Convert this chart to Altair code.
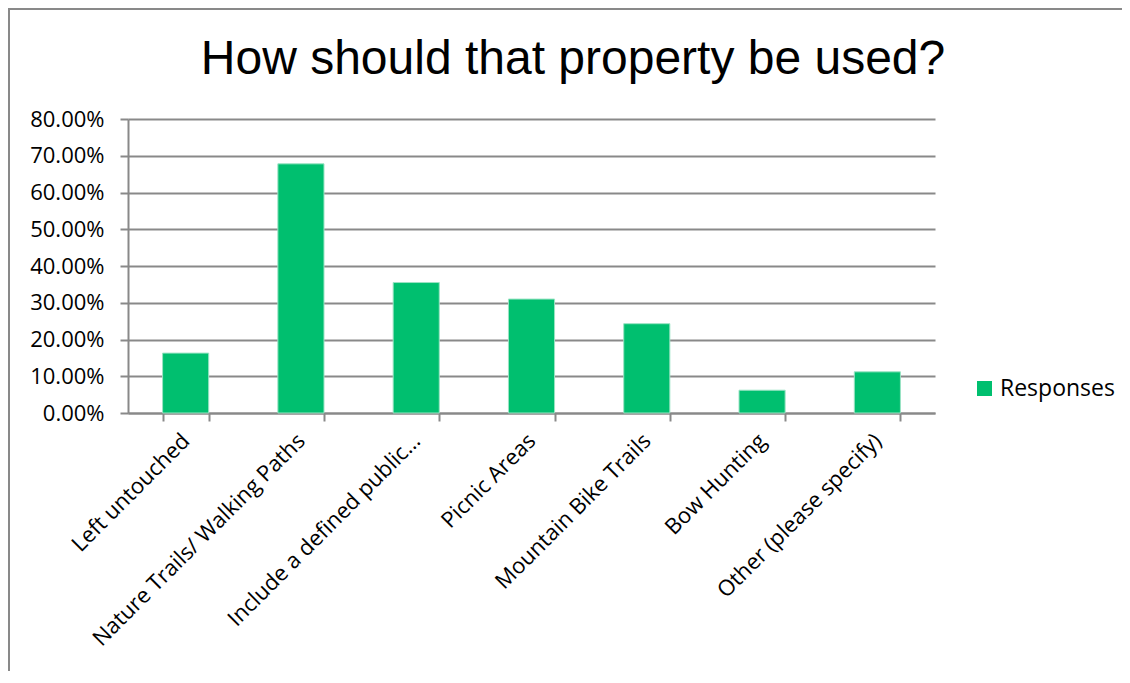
import altair as alt
import pandas as pd

categories = [
    "Left untouched",
    "Nature Trails/ Walking Paths",
    "Include a defined public…",
    "Picnic Areas",
    "Mountain Bike Trails",
    "Bow Hunting",
    "Other (please specify)",
]
responses = [0.163, 0.678, 0.355, 0.310, 0.243, 0.062, 0.112]
series_name = "Responses"
y_ticks = [0, 0.1, 0.2, 0.3, 0.4, 0.5, 0.6, 0.7, 0.8]
chart_title = "How should that property be used?"

df = pd.DataFrame({"Category": categories, "Value": responses, "Series": series_name})

GREEN = "#00BF6F"
GRAY = "#898989"
LABEL_FONT = "Open Sans"

bars = alt.Chart(df).mark_bar(color=GREEN, stroke="#9be3c4", strokeWidth=1).encode(
    x=alt.X(
        "Category:N",
        sort=categories,
        scale=alt.Scale(paddingInner=0.6, paddingOuter=0.3),
        axis=alt.Axis(
            title=None,
            labelAngle=-45,
            labelAlign="right",
            labelBaseline="middle",
            labelFont=LABEL_FONT,
            labelFontSize=22,
            labelColor="#000000",
            labelPadding=16,
            tickBand="extent",
            tickSize=8,
            tickColor=GRAY,
            tickWidth=2,
            domainColor=GRAY,
            domainWidth=2,
            grid=False,
            labelLimit=400,
        ),
    ),
    y=alt.Y(
        "Value:Q",
        scale=alt.Scale(domain=[0, 0.8], nice=False),
        axis=alt.Axis(
            title=None,
            values=y_ticks,
            format=".2%",
            labelFont=LABEL_FONT,
            labelFontSize=22,
            labelColor="#000000",
            labelPadding=16,
            tickSize=8,
            tickColor=GRAY,
            tickWidth=2,
            domainColor=GRAY,
            domainWidth=2,
            grid=True,
            gridColor=GRAY,
            gridWidth=2,
        ),
    ),
    color=alt.Color(
        "Series:N",
        scale=alt.Scale(domain=[series_name], range=[GREEN]),
        legend=alt.Legend(
            title=None,
            orient="none",
            legendX=845,
            legendY=258,
            symbolType="square",
            symbolSize=225,
            symbolStrokeWidth=0,
            labelFont=LABEL_FONT,
            labelFontSize=23,
            labelColor="#000000",
            labelOffset=4,
            padding=0,
        ),
    ),
)

one_row = alt.Data(values=[{"t": chart_title}])
title_text = alt.Chart(one_row).mark_text(
    font="Liberation Sans",
    fontSize=48,
    color="#000000",
    align="center",
    baseline="alphabetic",
).encode(text="t:N", x=alt.value(445), y=alt.value(-45))

top_line = alt.Chart(one_row).mark_rule(color=GRAY, strokeWidth=2).encode(
    x=alt.value(-120), x2=alt.value(1010), y=alt.value(-110)
)
left_line = alt.Chart(one_row).mark_rule(color=GRAY, strokeWidth=2).encode(
    x=alt.value(-119), y=alt.value(-110), y2=alt.value(570)
)

chart = alt.layer(bars, title_text, top_line, left_line).properties(
    width=807,
    height=294,
    autosize=alt.AutoSizeParams(type="none"),
    padding={"left": 120, "top": 111, "right": 187, "bottom": 258},
).configure_view(stroke=None)

chart.save("out.html", embed_options={"renderer": "svg", "actions": False})
